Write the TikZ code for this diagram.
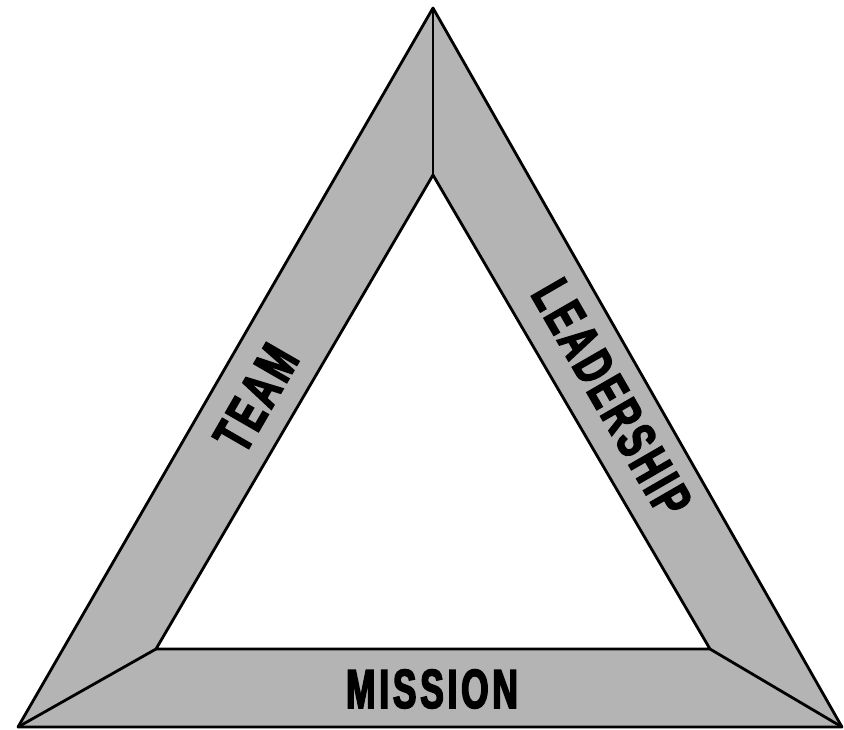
\documentclass[tikz,border=0pt]{standalone}
\usepackage{fontspec}
\newfontfamily\impactfont{Liberation Sans}[FakeStretch=0.64,FakeBold=3,LetterSpace=7]
\begin{document}
\begin{tikzpicture}[x=1pt,y=-1pt,
  edge/.style={draw=black,line width=2.8pt,line join=round},
  lbl/.style={font=\impactfont\bfseries\fontsize{55}{55}\selectfont,text=black,inner sep=0pt,anchor=center}]
\definecolor{bandgray}{RGB}{180,180,180}
\useasboundingbox (0,0) rectangle (844,729);
\coordinate (OT) at (433,8);
\coordinate (OL) at (18,727);
\coordinate (OR) at (842,727);
\coordinate (IT) at (433,175);
\coordinate (IL) at (156,649);
\coordinate (IR) at (710,649);
\fill[bandgray] (OT) -- (OL) -- (OR) -- cycle;
\fill[white] (IT) -- (IL) -- (IR) -- cycle;
\draw[edge] (OT) -- (OL) -- (OR) -- cycle;
\draw[edge] (IT) -- (IL) -- (IR) -- cycle;
\draw[edge] (OT) -- (IT);
\draw[edge] (OL) -- (IL);
\draw[edge] (OR) -- (IR);
\node[lbl,rotate=60] (team) at (256,398) {TEAM};
\node[lbl,rotate=-60] (lead) at (612,398) {LEADERSHIP};
\node[lbl] (mission) at (432,689) {MISSION};
\end{tikzpicture}
\end{document}
